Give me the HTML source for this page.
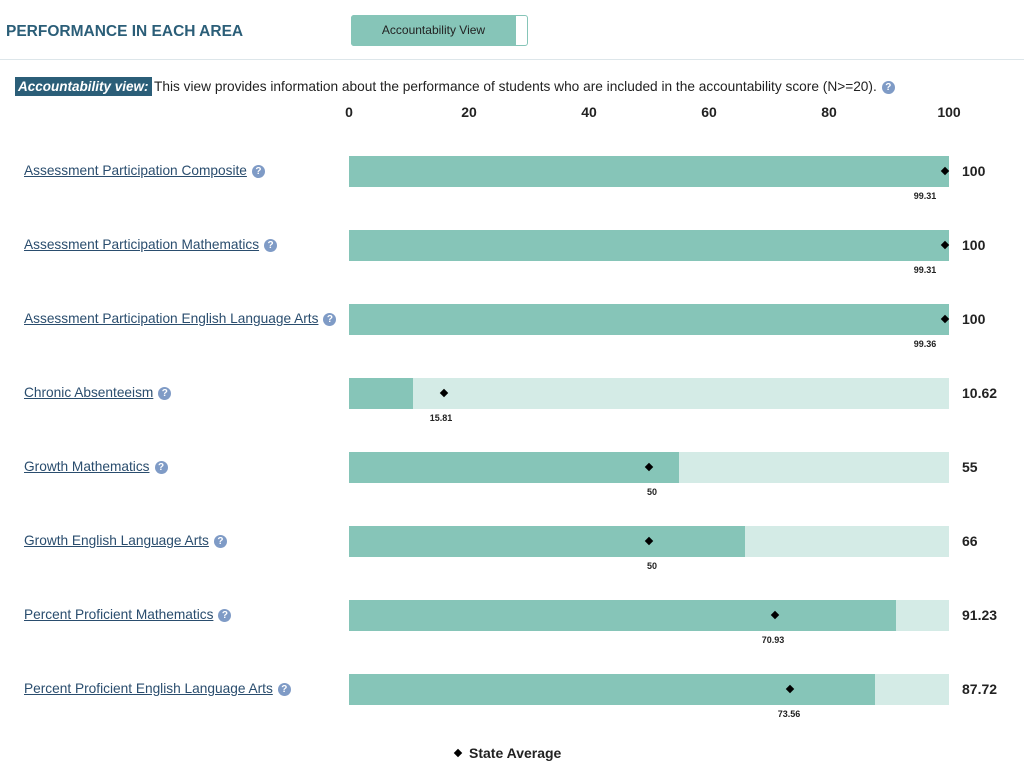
<!DOCTYPE html>
<html><head><meta charset="utf-8"><style>
body{margin:0;width:1024px;height:770px;background:#fff;font-family:"Liberation Sans",sans-serif;position:relative;overflow:hidden;color:#222}
.a{position:absolute}
h1{position:absolute;left:6px;top:23px;margin:0;font-size:15.5px;font-weight:bold;color:#2b5e78;letter-spacing:0}
.lbl{position:absolute;left:24px;font-size:13.7px;color:#2a4d6e;text-decoration:underline;white-space:nowrap}
.q{display:inline-block;width:13px;height:13px;border-radius:50%;background:#7f9bc6;color:#fff;font-size:10px;font-weight:bold;text-align:center;line-height:13px;text-decoration:none;vertical-align:middle;margin-left:5px}
.bg{position:absolute;left:349px;width:600px;height:31px;background:#d4ebe6}
.fg{position:absolute;left:0;top:0;height:31px;background:#86c5b8}
.dm{position:absolute;width:6px;height:6px;background:#000;transform:rotate(45deg);top:12px;margin-left:-3px}
.sv{position:absolute;font-size:9px;font-weight:bold;top:35px;transform:translateX(-50%)}
.val{position:absolute;left:962px;font-size:14px;font-weight:bold}
.tk{position:absolute;top:104px;font-size:14px;font-weight:bold;transform:translateX(-50%)}
</style></head><body>
<h1>PERFORMANCE IN EACH AREA</h1>
<div class="a" style="left:351px;top:15px;width:175px;height:29px;border:1px solid #86c5b8;border-radius:3px;background:#fff"></div>
<div class="a" style="left:351px;top:15px;width:165px;height:31px;background:#86c5b8;border-radius:3px 0 0 3px;font-size:12px;text-align:center;line-height:31px">Accountability View</div>
<div class="a" style="left:0;top:59px;width:1024px;height:1px;background:#dde6ea"></div>
<div class="a" style="left:15px;top:77px;background:#2b5e78;color:#fff;font-size:13.5px;font-weight:bold;font-style:italic;padding:2px 3px">Accountability view:</div>
<div class="a" style="left:154px;top:79px;font-size:13.7px;white-space:nowrap">This view provides information about the performance of students who are included in the accountability score (N&gt;=20).<span class="q">?</span></div>
<div class="tk" style="left:349px">0</div><div class="tk" style="left:469px">20</div><div class="tk" style="left:589px">40</div><div class="tk" style="left:709px">60</div><div class="tk" style="left:829px">80</div><div class="tk" style="left:949px">100</div>

<div class="lbl" style="top:163px">Assessment Participation Composite<span class="q">?</span></div>
<div class="bg" style="top:156px"><div class="fg" style="width:600px"></div><div class="dm" style="left:596px"></div><div class="sv" style="left:576px">99.31</div></div>
<div class="val" style="top:163px">100</div>

<div class="lbl" style="top:237px">Assessment Participation Mathematics<span class="q">?</span></div>
<div class="bg" style="top:230px"><div class="fg" style="width:600px"></div><div class="dm" style="left:596px"></div><div class="sv" style="left:576px">99.31</div></div>
<div class="val" style="top:237px">100</div>

<div class="lbl" style="top:311px">Assessment Participation English Language Arts<span class="q">?</span></div>
<div class="bg" style="top:304px"><div class="fg" style="width:600px"></div><div class="dm" style="left:596px"></div><div class="sv" style="left:576px">99.36</div></div>
<div class="val" style="top:311px">100</div>

<div class="lbl" style="top:385px">Chronic Absenteeism<span class="q">?</span></div>
<div class="bg" style="top:378px"><div class="fg" style="width:64px"></div><div class="dm" style="left:95px"></div><div class="sv" style="left:92px">15.81</div></div>
<div class="val" style="top:385px">10.62</div>

<div class="lbl" style="top:459px">Growth Mathematics<span class="q">?</span></div>
<div class="bg" style="top:452px"><div class="fg" style="width:330px"></div><div class="dm" style="left:300px"></div><div class="sv" style="left:303px">50</div></div>
<div class="val" style="top:459px">55</div>

<div class="lbl" style="top:533px">Growth English Language Arts<span class="q">?</span></div>
<div class="bg" style="top:526px"><div class="fg" style="width:396px"></div><div class="dm" style="left:300px"></div><div class="sv" style="left:303px">50</div></div>
<div class="val" style="top:533px">66</div>

<div class="lbl" style="top:607px">Percent Proficient Mathematics<span class="q">?</span></div>
<div class="bg" style="top:600px"><div class="fg" style="width:547px"></div><div class="dm" style="left:426px"></div><div class="sv" style="left:424px">70.93</div></div>
<div class="val" style="top:607px">91.23</div>

<div class="lbl" style="top:681px">Percent Proficient English Language Arts<span class="q">?</span></div>
<div class="bg" style="top:674px"><div class="fg" style="width:526px"></div><div class="dm" style="left:441px"></div><div class="sv" style="left:440px">73.56</div></div>
<div class="val" style="top:681px">87.72</div>

<div class="a" style="left:455px;top:750px;width:6px;height:6px;background:#000;transform:rotate(45deg)"></div>
<div class="a" style="left:469px;top:745px;font-size:14px;font-weight:bold">State Average</div>
</body></html>
